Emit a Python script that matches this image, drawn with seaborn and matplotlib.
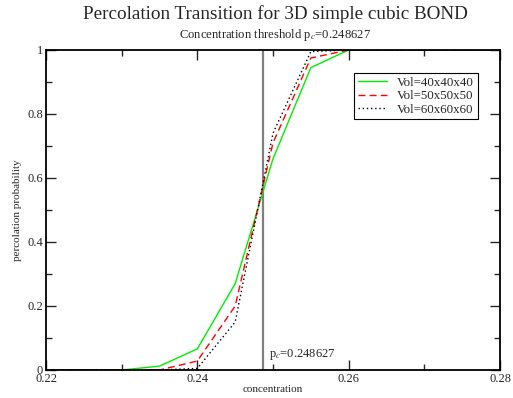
import matplotlib
matplotlib.use("Agg")
import matplotlib.pyplot as plt
import seaborn as sns
import pandas as pd
from matplotlib.ticker import MultipleLocator

concentration = [0.22, 0.225, 0.23, 0.235, 0.24, 0.245, 0.25, 0.255, 0.26, 0.265, 0.27, 0.275, 0.28]
vol40 = [0.0, 0.0, 0.0, 0.012, 0.066, 0.27, 0.66, 0.945, 1.0, 1.0, 1.0, 1.0, 1.0]
vol50 = [0.0, 0.0, 0.0, 0.0, 0.028, 0.20, 0.71, 0.975, 1.0, 1.0, 1.0, 1.0, 1.0]
vol60 = [0.0, 0.0, 0.0, 0.0, 0.005, 0.15, 0.74, 0.995, 1.0, 1.0, 1.0, 1.0, 1.0]
labels = ["Vol=40x40x40", "Vol=50x50x50", "Vol=60x60x60"]
pc = 0.248627

sns.set_style("ticks")
plt.rcParams['font.family'] = ['Liberation Serif', 'DejaVu Serif']
plt.rcParams['mathtext.fontset'] = 'stix'

rows = []
for lab, vals in zip(labels, [vol40, vol50, vol60]):
    for c, v in zip(concentration, vals):
        rows.append({"concentration": c, "p": v, "series": lab})
df = pd.DataFrame(rows)

fig = plt.figure(figsize=(5.13, 3.98), dpi=100)
ax = fig.add_axes([0.0897, 0.0704, 0.8850, 0.8040])

styles = {labels[0]: dict(color="#00ee00", ls="-", lw=1.0),
          labels[1]: dict(color="#ff0000", ls=(0, (5, 3)), lw=1.0),
          labels[2]: dict(color="black", ls=(0, (1, 2)), lw=1.0)}
for lab in labels:
    sub = df[df.series == lab]
    sns.lineplot(data=sub, x="concentration", y="p", ax=ax, label=lab,
                 color=styles[lab]["color"], linestyle=styles[lab]["ls"],
                 linewidth=styles[lab]["lw"])

ax.axvline(pc, color="#808080", lw=1.6, zorder=1)
ax.text(pc + 0.0008, 0.025, r"p$_c$=0.248627", fontsize=9, ha="left", va="bottom")

ax.set_xlim(0.22, 0.28)
ax.set_ylim(0, 1)
ax.xaxis.set_major_locator(MultipleLocator(0.02))
ax.xaxis.set_minor_locator(MultipleLocator(0.01))
ax.yaxis.set_major_locator(MultipleLocator(0.2))
ax.yaxis.set_minor_locator(MultipleLocator(0.1))
ax.set_xticks([0.22, 0.24, 0.26, 0.28])
ax.set_xticklabels(["0.22", "0.24", "0.26", "0.28"])
ax.set_yticks([0, 0.2, 0.4, 0.6, 0.8, 1.0])
ax.set_yticklabels(["0", "0.2", "0.4", "0.6", "0.8", "1"])
ax.tick_params(which="both", direction="in", top=True, right=True, labelsize=9, pad=2)
ax.tick_params(which="major", length=7, width=1)
ax.tick_params(which="minor", length=4, width=1)
for s in ax.spines.values():
    s.set_linewidth(1.3)
    s.set_color("black")

ax.set_xlabel("concentration", fontsize=8, labelpad=0)
ax.set_ylabel("percolation probability", fontsize=8, labelpad=4)

leg = ax.legend(loc="upper right", bbox_to_anchor=(0.951, 0.928), borderaxespad=0,
                fontsize=9.3, frameon=True, fancybox=False, edgecolor="black", framealpha=1,
                handlelength=2.2, borderpad=0.3, labelspacing=0.1, handletextpad=0.8)
leg.get_frame().set_linewidth(0.8)

fig.text(0.536, 0.965, "Percolation Transition for 3D simple cubic BOND", ha="center", va="center", fontsize=13.8)
fig.text(0.536, 0.912, r"Concentration threshold p$_c$=0.248627", ha="center", va="center", fontsize=9.1)

fig.savefig("out.png", dpi=100)
